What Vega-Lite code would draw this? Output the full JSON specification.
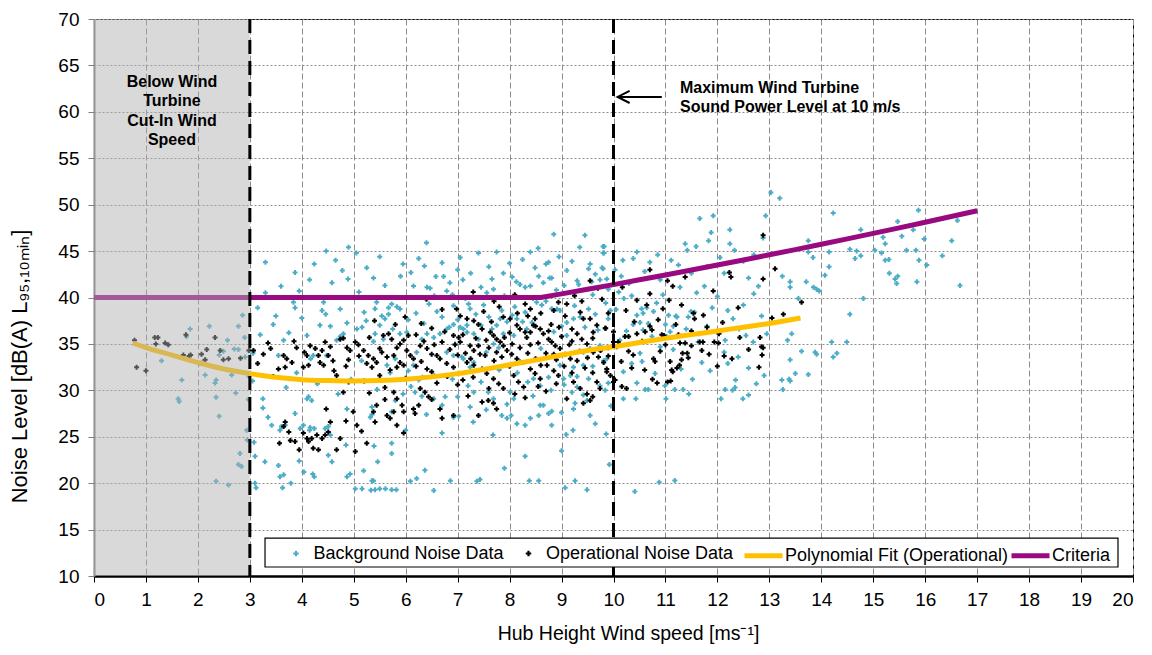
{
"$schema": "https://vega.github.io/schema/vega-lite/v6.json",
"width": 1039, "height": 557,
"autosize": {"type": "none"},
"padding": {"left": 94, "top": 19, "right": 19, "bottom": 79},
"background": "white",
"config": {
 "view": {"stroke": "black", "strokeWidth": 1},
 "font": "Liberation Sans",
 "axis": {"labelFont": "Liberation Sans", "titleFont": "Liberation Sans", "labelFontSize": 19, "labelColor": "black", "titleColor": "black", "titleFontWeight": "normal", "gridColor": "#8c8c8c", "gridWidth": 1, "tickSize": 6},
 "legend": {"labelFont": "Liberation Sans", "labelFontSize": 18, "labelColor": "black", "labelLimit": 0, "padding": 0, "rowPadding": 0}
},
"datasets": {
 "bg": [
 {"x":2.86,"y":38.1},{"x":2.22,"y":36.9},{"x":2.78,"y":36.9},{"x":1.78,"y":35.8},{"x":2.57,"y":35.4},{"x":2.70,"y":34.45},{"x":2.78,"y":34.4},{"x":2.49,"y":34.2},{"x":2.91,"y":33.6},{"x":2.41,"y":33.8},{"x":2.04,"y":32.9},{"x":2.10,"y":33.1},{"x":2.14,"y":31.65},{"x":2.65,"y":31.65},{"x":1.69,"y":31.1},{"x":2.35,"y":31.1},{"x":2.33,"y":30.8},{"x":2.73,"y":29.7},{"x":1.62,"y":29.1},{"x":1.64,"y":28.8},{"x":2.35,"y":29.25},{"x":2.41,"y":27.2},{"x":2.94,"y":25.7},{"x":2.95,"y":24.65},{"x":2.81,"y":23.2},{"x":2.78,"y":22.0},{"x":2.84,"y":21.8},{"x":2.35,"y":20.2},{"x":2.59,"y":19.8},{"x":1.3,"y":33.2},{"x":1.85,"y":36.6},{"x":2.97,"y":29.0},{"x":2.98,"y":31.5},{"x":2.9,"y":35.7},
 {"x":8.85,"y":46.8},{"x":4.47,"y":45.0},{"x":5.05,"y":44.8},{"x":4.24,"y":43.6},{"x":3.87,"y":42.7},{"x":4.78,"y":42.9},{"x":4.89,"y":42.0},{"x":4.58,"y":41.6},{"x":5.38,"y":42.1},{"x":6.36,"y":43.4},{"x":6.70,"y":43.75},{"x":6.58,"y":42.25},{"x":6.73,"y":42.25},{"x":7.10,"y":41.9},{"x":7.66,"y":42.0},{"x":7.88,"y":42.6},{"x":8.49,"y":43.2},{"x":8.70,"y":43.6},{"x":8.75,"y":43.8},{"x":8.56,"y":42.3},{"x":8.77,"y":42.1},{"x":8.81,"y":42.1},{"x":9.55,"y":43.6},{"x":9.52,"y":43.1},{"x":9.80,"y":45.5},{"x":9.82,"y":44.8},{"x":9.30,"y":41.8},{"x":9.33,"y":41.4},{"x":9.58,"y":41.7},{"x":9.78,"y":43.2},{"x":8.13,"y":41.7},{"x":8.20,"y":41.4},{"x":8.30,"y":41.1},{"x":8.40,"y":41.25},{"x":7.69,"y":40.9},{"x":7.56,"y":40.5},{"x":6.15,"y":41.25},{"x":6.41,"y":41.1},{"x":6.47,"y":41.0},{"x":6.79,"y":40.7},{"x":7.21,"y":39.3},{"x":7.24,"y":38.8},{"x":6.92,"y":39.1},{"x":5.44,"y":39.5},{"x":5.41,"y":38.8},{"x":5.73,"y":39.3},{"x":5.67,"y":38.9},{"x":5.83,"y":39.0},{"x":5.89,"y":38.75},{"x":5.67,"y":38.2},{"x":5.60,"y":37.7},{"x":5.54,"y":38.0},{"x":5.16,"y":36.8},{"x":5.06,"y":36.6},{"x":5.24,"y":37.5},{"x":4.87,"y":37.25},{"x":4.35,"y":37.0},{"x":4.10,"y":35.9},{"x":3.87,"y":38.9},{"x":3.84,"y":39.5},{"x":4.42,"y":39.5},{"x":4.46,"y":38.2},{"x":4.39,"y":38.6},{"x":4.74,"y":38.75},{"x":4.48,"y":33.75},{"x":3.65,"y":35.4},{"x":3.55,"y":33.75},{"x":3.25,"y":29.1},{"x":3.25,"y":28.1},{"x":3.87,"y":27.5},{"x":3.61,"y":26.1},{"x":3.68,"y":26.25},{"x":3.58,"y":25.7},{"x":3.42,"y":26.25},{"x":4.10,"y":29.1},{"x":4.16,"y":26.0},{"x":4.15,"y":25.7},{"x":4.24,"y":25.9},{"x":4.55,"y":25.2},{"x":4.51,"y":23.0},{"x":4.58,"y":22.3},{"x":3.29,"y":22.3},{"x":3.55,"y":21.9},{"x":3.58,"y":20.7},{"x":3.65,"y":20.9},{"x":3.79,"y":20.0},{"x":3.63,"y":19.5},{"x":3.1,"y":20.0},{"x":3.12,"y":19.5},{"x":4.04,"y":21.2},{"x":4.21,"y":21.0},{"x":4.24,"y":20.7},{"x":4.87,"y":20.7},{"x":4.93,"y":21.0},{"x":5.03,"y":19.4},{"x":5.16,"y":19.4},{"x":5.33,"y":19.25},{"x":5.41,"y":19.3},{"x":5.5,"y":19.4},{"x":5.61,"y":19.4},{"x":5.73,"y":19.3},{"x":5.82,"y":19.3},{"x":5.19,"y":21.35},{"x":5.35,"y":20.25},{"x":5.38,"y":20.25},{"x":5.46,"y":22.3},{"x":5.73,"y":23.2},{"x":5.73,"y":24.3},{"x":5.39,"y":24.0},{"x":6.09,"y":20.2},{"x":6.21,"y":20.5},{"x":6.37,"y":21.4},{"x":6.54,"y":19.2},{"x":6.86,"y":20.25},{"x":7.37,"y":20.2},{"x":7.43,"y":20.4},{"x":7.68,"y":25.2},{"x":8.38,"y":20.25},{"x":8.56,"y":20.25},{"x":9.07,"y":19.5},{"x":9.26,"y":20.25},{"x":9.49,"y":19.3},{"x":9.86,"y":25.3},{"x":9.09,"y":25.25},{"x":9.22,"y":25.7},{"x":9.23,"y":28.0},{"x":9.42,"y":29.5},{"x":9.55,"y":27.3},{"x":9.26,"y":28.6},{"x":9.49,"y":28.9},{"x":8.30,"y":26.25},{"x":8.40,"y":27.0},{"x":8.14,"y":26.4},{"x":8.03,"y":27.3},{"x":7.85,"y":27.3},{"x":7.95,"y":27.0},{"x":8.56,"y":27.3},{"x":8.75,"y":27.5},{"x":8.81,"y":27.75},{"x":8.81,"y":26.25},{"x":7.55,"y":27.9},{"x":7.24,"y":28.2},{"x":6.92,"y":27.1},{"x":7.02,"y":27.2},{"x":6.18,"y":29.8},{"x":6.31,"y":29.35},{"x":6.54,"y":29.1},{"x":5.32,"y":27.1},{"x":5.35,"y":27.4},{"x":4.87,"y":28.0},{"x":5.73,"y":27.7},{"x":5.80,"y":28.9},{"x":6.25,"y":31.1},{"x":6.32,"y":31.4},{"x":6.76,"y":29.3},{"x":6.70,"y":28.4},{"x":7.24,"y":32.5},{"x":7.31,"y":33.0},{"x":7.11,"y":33.4},{"x":7.08,"y":33.6},{"x":7.59,"y":29.8},{"x":7.69,"y":29.1},{"x":7.31,"y":29.8},{"x":8.01,"y":29.8},{"x":8.08,"y":29.1},{"x":8.59,"y":28.4},{"x":8.65,"y":28.4},{"x":9.2,"y":29.8},{"x":9.3,"y":30.35},{"x":9.74,"y":30.5},{"x":9.84,"y":30.0},{"x":9.52,"y":31.25},{"x":9.04,"y":31.25},{"x":9.17,"y":31.6},{"x":8.46,"y":31.25},{"x":8.59,"y":30.5},{"x":8.97,"y":32.7},{"x":9.23,"y":32.5},{"x":9.42,"y":32.7},{"x":9.81,"y":33.2},{"x":9.87,"y":33.4},{"x":9.42,"y":34.1},{"x":9.55,"y":34.5},{"x":9.74,"y":34.8},{"x":9.1,"y":35.9},{"x":9.23,"y":37.7},{"x":9.36,"y":37.9},{"x":9.1,"y":37.3},{"x":8.91,"y":38.75},{"x":8.97,"y":38.6},{"x":8.81,"y":38.8},{"x":9.52,"y":38.75},{"x":9.9,"y":37.7},{"x":9.94,"y":38.6},{"x":8.52,"y":39.5},{"x":8.62,"y":39.2},{"x":8.30,"y":38.4},{"x":8.43,"y":37.3},{"x":8.33,"y":36.6},{"x":8.08,"y":35.9},{"x":7.88,"y":36.1},{"x":8.14,"y":37.7},{"x":7.82,"y":37.7},{"x":7.95,"y":37.4},{"x":7.75,"y":37.0},{"x":7.66,"y":36.6},{"x":7.45,"y":37.0},{"x":7.69,"y":35.0},{"x":7.79,"y":34.6},{"x":7.40,"y":35.5},{"x":7.31,"y":36.1},{"x":7.18,"y":36.25},{"x":7.11,"y":36.6},{"x":7.05,"y":36.8},{"x":7.18,"y":37.0},{"x":6.92,"y":37.1},{"x":6.84,"y":36.8},{"x":6.66,"y":36.1},{"x":6.79,"y":36.6},{"x":6.54,"y":35.7},{"x":6.41,"y":36.1},{"x":6.31,"y":35.5},{"x":6.21,"y":34.1},{"x":6.79,"y":34.1},{"x":6.92,"y":33.75},{"x":5.89,"y":36.1},{"x":6.02,"y":36.25},{"x":5.57,"y":35.5},{"x":5.38,"y":35.25},{"x":5.41,"y":36.1},{"x":4.74,"y":35.8},{"x":4.80,"y":36.1},{"x":4.67,"y":35.4},{"x":4.22,"y":33.75},{"x":4.17,"y":33.4},{"x":5.80,"y":33.4},{"x":5.64,"y":32.7},{"x":6.05,"y":32.1},{"x":6.15,"y":32.7},{"x":4.13,"y":29.3},{"x":4.19,"y":28.9},{"x":4.45,"y":25.9},{"x":4.51,"y":26.1},{"x":3.97,"y":25.9},{"x":4.03,"y":26.25},{"x":5.35,"y":28.2},
 {"x":4.9,"y":45.4},{"x":6.4,"y":45.9},{"x":9.45,"y":46.7},{"x":8.4,"y":44.9},{"x":7.4,"y":44.8},{"x":5.5,"y":44.4},{"x":3.3,"y":40.5},{"x":3.5,"y":38.0},{"x":3.2,"y":36.0},{"x":6.0,"y":40.0},{"x":6.9,"y":40.3},{"x":7.9,"y":40.2},{"x":8.9,"y":40.8},{"x":9.1,"y":42.9},{"x":9.6,"y":40.3},{"x":3.06,"y":34.0},{"x":3.05,"y":31.0},{"x":3.08,"y":24.4},{"x":3.1,"y":22.9},{"x":6.6,"y":38.5},{"x":7.5,"y":39.2},{"x":8.1,"y":39.0},{"x":9.0,"y":36.9},{"x":9.7,"y":36.5},{"x":7.0,"y":43.0},{"x":5.9,"y":42.3},{"x":6.2,"y":38.3},{"x":6.95,"y":35.0},{"x":7.55,"y":34.1},{"x":8.6,"y":34.5},{"x":8.2,"y":33.1},{"x":8.8,"y":30.0},{"x":9.95,"y":28.3},{"x":9.65,"y":26.4},{"x":9.0,"y":23.5},{"x":9.92,"y":22.0},{"x":7.9,"y":21.6},{"x":8.3,"y":22.9},{"x":6.0,"y":25.7},{"x":6.7,"y":25.4},{"x":4.95,"y":31.2},{"x":3.7,"y":30.3},
 {"x":5.1,"y":40.6},{"x":5.25,"y":43.2},{"x":5.6,"y":41.3},{"x":5.95,"y":43.6},{"x":6.1,"y":42.7},{"x":6.25,"y":44.2},{"x":6.55,"y":40.2},{"x":6.85,"y":41.6},{"x":7.05,"y":44.3},{"x":7.25,"y":42.6},{"x":7.45,"y":41.1},{"x":7.6,"y":43.3},{"x":7.75,"y":44.9},{"x":8.0,"y":43.7},{"x":8.05,"y":42.2},{"x":8.25,"y":44.1},{"x":8.55,"y":45.3},{"x":8.65,"y":41.6},{"x":8.95,"y":44.4},{"x":9.05,"y":41.3},{"x":9.2,"y":43.9},{"x":9.35,"y":45.4},{"x":9.65,"y":42.5},{"x":9.9,"y":40.9},
 {"x":5.2,"y":38.4},{"x":5.5,"y":37.0},{"x":5.75,"y":36.6},{"x":6.05,"y":37.6},{"x":6.35,"y":37.2},{"x":6.45,"y":39.3},{"x":6.7,"y":37.9},{"x":7.0,"y":37.6},{"x":7.15,"y":39.9},{"x":7.35,"y":38.2},{"x":7.6,"y":37.9},{"x":7.85,"y":38.6},{"x":8.05,"y":38.1},{"x":8.25,"y":37.4},{"x":8.45,"y":39.9},{"x":8.7,"y":39.6},{"x":8.85,"y":36.3},{"x":9.25,"y":39.1},{"x":9.45,"y":36.8},{"x":9.65,"y":38.2},{"x":9.85,"y":39.4},
 {"x":5.15,"y":33.2},{"x":5.45,"y":30.1},{"x":5.7,"y":31.9},{"x":6.1,"y":30.4},{"x":6.55,"y":31.6},{"x":6.9,"y":31.2},{"x":7.2,"y":30.5},{"x":7.45,"y":30.9},{"x":7.8,"y":32.2},{"x":8.15,"y":31.9},{"x":8.35,"y":30.9},{"x":8.75,"y":31.4},{"x":9.05,"y":30.6},{"x":9.3,"y":31.5},{"x":9.6,"y":32.6},{"x":9.9,"y":30.8},{"x":7.0,"y":29.3},{"x":7.95,"y":28.5},{"x":8.45,"y":29.4},{"x":9.0,"y":27.6},{"x":6.4,"y":27.4},{"x":5.95,"y":29.6},{"x":7.3,"y":26.6},
 {"x":3.3,"y":43.8},{"x":3.6,"y":41.2},{"x":3.95,"y":40.7},{"x":4.15,"y":41.9},{"x":4.65,"y":44.0},{"x":3.45,"y":37.1},{"x":4.0,"y":37.8},{"x":4.55,"y":36.9},{"x":3.15,"y":38.9},{"x":3.75,"y":36.2},{"x":4.3,"y":30.7},{"x":3.9,"y":31.9},{"x":4.7,"y":29.6},{"x":3.35,"y":27.1},{"x":4.85,"y":24.1},{"x":3.95,"y":22.4},
 {"x":9.82,"y":45.5},{"x":9.8,"y":44.8},{"x":10.45,"y":44.9},{"x":10.38,"y":44.2},{"x":10.18,"y":44.0},{"x":10.7,"y":43.8},{"x":11.11,"y":44.0},{"x":9.8,"y":43.1},{"x":10.03,"y":43.0},{"x":9.74,"y":41.9},{"x":9.87,"y":42.0},{"x":12.13,"y":42.6},{"x":12.79,"y":41.2},{"x":11.75,"y":41.2},{"x":11.28,"y":41.1},{"x":10.2,"y":39.9},{"x":10.54,"y":38.8},{"x":10.64,"y":38.9},{"x":10.57,"y":38.3},{"x":10.45,"y":38.1},{"x":10.51,"y":37.3},{"x":10.38,"y":37.1},{"x":10.77,"y":38.5},{"x":10.83,"y":39.4},{"x":11.06,"y":38.1},{"x":11.2,"y":38.0},{"x":11.22,"y":37.9},{"x":11.44,"y":37.9},{"x":11.49,"y":38.5},{"x":11.15,"y":36.9},{"x":11.09,"y":36.3},{"x":11.56,"y":38.4},{"x":10.57,"y":36.5},{"x":10.67,"y":37.2},{"x":10.74,"y":35.8},{"x":12.42,"y":36.6},{"x":12.95,"y":36.1},{"x":12.15,"y":35.4},{"x":11.63,"y":35.2},{"x":11.02,"y":35.8},{"x":10.9,"y":34.7},{"x":10.51,"y":34.0},{"x":10.35,"y":32.9},{"x":10.45,"y":30.8},{"x":10.19,"y":32.0},{"x":10.61,"y":30.1},{"x":10.67,"y":30.1},{"x":10.99,"y":30.5},{"x":11.18,"y":30.1},{"x":11.34,"y":30.1},{"x":11.52,"y":31.2},{"x":11.86,"y":32.1},{"x":12.13,"y":34.1},{"x":12.2,"y":32.9},{"x":12.07,"y":29.1},{"x":12.15,"y":30.1},{"x":12.29,"y":30.0},{"x":12.34,"y":30.3},{"x":12.49,"y":29.1},{"x":12.6,"y":29.5},{"x":12.69,"y":35.2},{"x":11.01,"y":29.1},{"x":10.19,"y":29.1},{"x":10.43,"y":29.1},{"x":10.41,"y":19.1},{"x":10.88,"y":20.1},{"x":11.18,"y":20.3},
 {"x":12.93,"y":48.8},{"x":12.88,"y":46.4},{"x":11.66,"y":48.5},{"x":11.92,"y":48.8},{"x":11.88,"y":47.0},{"x":11.83,"y":46.1},{"x":12.24,"y":47.3},{"x":12.24,"y":45.8},{"x":12.33,"y":45.1},{"x":11.38,"y":45.8},{"x":11.42,"y":45.1},{"x":11.59,"y":45.5},
 {"x":13.03,"y":51.3},{"x":13.2,"y":50.7},{"x":14.23,"y":49.1},{"x":15.87,"y":49.4},{"x":15.47,"y":48.2},{"x":16.62,"y":48.3},{"x":14.76,"y":47.3},{"x":15.77,"y":47.3},{"x":13.75,"y":46.1},{"x":15.19,"y":46.5},{"x":15.55,"y":46.6},{"x":15.98,"y":46.3},{"x":16.51,"y":46.1},{"x":15.23,"y":45.8},{"x":14.55,"y":45.2},{"x":14.68,"y":45.0},{"x":14.65,"y":44.2},{"x":14.76,"y":44.5},{"x":14.15,"y":44.9},{"x":15.03,"y":45.1},{"x":15.16,"y":44.8},{"x":15.64,"y":45.1},{"x":15.82,"y":45.1},{"x":16.33,"y":44.5},{"x":13.75,"y":44.9},{"x":13.84,"y":44.3},{"x":14.15,"y":43.3},{"x":15.23,"y":44.0},{"x":15.30,"y":44.1},{"x":15.88,"y":44.0},{"x":16.03,"y":43.5},{"x":15.31,"y":42.6},{"x":15.47,"y":42.3},{"x":15.42,"y":42.0},{"x":15.45,"y":41.5},{"x":15.84,"y":41.7},{"x":16.67,"y":41.3},{"x":14.07,"y":42.4},{"x":13.25,"y":42.3},{"x":13.40,"y":41.7},{"x":13.40,"y":41.1},{"x":13.71,"y":41.7},{"x":13.85,"y":41.1},{"x":13.91,"y":40.9},{"x":13.96,"y":40.7},{"x":13.56,"y":39.9},{"x":14.81,"y":39.9},{"x":14.55,"y":38.2},{"x":14.49,"y":35.2},{"x":14.2,"y":35.2},{"x":14.3,"y":34.0},{"x":14.23,"y":33.6},{"x":13.91,"y":33.9},{"x":13.88,"y":34.1},{"x":13.62,"y":34.2},{"x":13.43,"y":36.1},{"x":13.35,"y":35.4},{"x":13.5,"y":31.8},{"x":13.4,"y":33.3},{"x":13.38,"y":31.2},{"x":13.4,"y":31.0},{"x":13.24,"y":31.1},{"x":13.26,"y":30.1},{"x":13.75,"y":31.7},
 {"x":10.1,"y":40.6},{"x":10.3,"y":41.5},{"x":10.9,"y":41.9},{"x":11.5,"y":42.6},{"x":11.8,"y":43.3},{"x":12.5,"y":43.9},{"x":12.7,"y":44.6},{"x":12.0,"y":40.1},{"x":12.5,"y":39.2},{"x":11.9,"y":38.9},{"x":10.95,"y":40.3},{"x":12.85,"y":38.0},{"x":12.4,"y":33.6},{"x":11.7,"y":33.0},{"x":11.3,"y":32.3},{"x":10.8,"y":31.8},{"x":12.9,"y":31.6},{"x":12.6,"y":32.4},{"x":10.05,"y":38.7},{"x":10.25,"y":36.4},{"x":10.12,"y":35.4},{"x":11.4,"y":36.6},{"x":11.8,"y":36.9},{"x":12.3,"y":37.7},{"x":12.7,"y":40.4},
 {"x":10.15,"y":42.3},{"x":10.6,"y":42.8},{"x":11.25,"y":43.5},{"x":11.6,"y":40.5},{"x":12.05,"y":44.3},{"x":12.6,"y":42.1},{"x":10.35,"y":40.2},{"x":10.85,"y":44.6},{"x":11.0,"y":37.1},{"x":11.65,"y":36.1},{"x":12.2,"y":38.6},{"x":12.55,"y":35.9},{"x":10.55,"y":33.1},{"x":11.15,"y":34.4},{"x":12.35,"y":31.1},{"x":11.45,"y":29.6},{"x":12.75,"y":30.7}
 ],
 "op": [
 {"x":0.78,"y":35.4},{"x":0.82,"y":32.5},{"x":1.0,"y":32.1},{"x":1.17,"y":35.7},{"x":1.23,"y":35.7},{"x":1.19,"y":35.0},{"x":1.37,"y":35.1},{"x":1.43,"y":34.9},{"x":1.77,"y":36.0},{"x":1.72,"y":33.8},{"x":1.83,"y":33.7},{"x":1.86,"y":33.8},{"x":2.07,"y":33.9},{"x":2.14,"y":33.3},{"x":2.33,"y":35.7},{"x":2.17,"y":34.4},{"x":2.43,"y":34.3},{"x":2.49,"y":33.3},{"x":2.59,"y":33.4},{"x":2.82,"y":33.45},{"x":2.98,"y":34.3},
 {"x":3.07,"y":34.3},{"x":3.26,"y":33.9},{"x":3.65,"y":33.75},{"x":3.71,"y":33.4},{"x":3.81,"y":33.0},{"x":3.55,"y":32.3},{"x":3.68,"y":32.5},{"x":4.16,"y":34.8},{"x":4.26,"y":34.5},{"x":4.39,"y":34.3},{"x":4.32,"y":33.75},{"x":4.03,"y":32.5},{"x":4.13,"y":32.7},{"x":4.35,"y":33.0},{"x":4.42,"y":32.7},{"x":4.51,"y":33.75},{"x":4.55,"y":34.7},{"x":4.74,"y":35.5},{"x":4.80,"y":35.6},{"x":4.87,"y":34.6},{"x":4.93,"y":34.3},{"x":4.62,"y":32.1},{"x":4.67,"y":31.6},{"x":4.80,"y":29.8},{"x":5.03,"y":35.2},{"x":5.09,"y":34.9},{"x":5.19,"y":34.3},{"x":5.28,"y":33.75},{"x":5.38,"y":33.4},{"x":5.25,"y":32.9},{"x":5.35,"y":32.5},{"x":5.44,"y":33.0},{"x":5.57,"y":35.9},{"x":5.67,"y":36.1},{"x":5.73,"y":35.5},{"x":5.54,"y":34.1},{"x":5.64,"y":33.6},{"x":5.77,"y":33.75},{"x":5.83,"y":34.6},{"x":5.89,"y":35.0},{"x":5.96,"y":35.4},{"x":6.02,"y":34.3},{"x":6.09,"y":33.75},{"x":6.15,"y":33.4},{"x":5.89,"y":33.0},{"x":5.96,"y":32.7},{"x":5.83,"y":32.5},{"x":5.99,"y":37.9},{"x":6.28,"y":34.8},{"x":6.41,"y":34.5},{"x":6.50,"y":33.9},{"x":6.60,"y":33.75},{"x":6.66,"y":33.4},{"x":6.79,"y":32.9},{"x":6.92,"y":32.5},{"x":6.41,"y":32.3},{"x":6.50,"y":32.0},{"x":6.92,"y":35.9},{"x":7.02,"y":35.7},{"x":7.05,"y":35.2},{"x":7.24,"y":34.8},{"x":7.31,"y":34.3},{"x":7.43,"y":33.9},{"x":7.53,"y":33.75},{"x":7.18,"y":37.7},{"x":7.31,"y":37.5},{"x":7.40,"y":37.1},{"x":7.47,"y":36.6},{"x":7.18,"y":33.0},{"x":7.31,"y":32.7},{"x":7.47,"y":32.3},{"x":7.56,"y":31.8},{"x":6.98,"y":38.75},{"x":7.05,"y":38.0},{"x":7.63,"y":36.25},{"x":7.69,"y":35.9},{"x":7.75,"y":35.5},{"x":7.82,"y":35.2},{"x":7.88,"y":34.8},{"x":7.95,"y":34.3},{"x":8.04,"y":33.9},{"x":8.14,"y":33.4},{"x":7.88,"y":37.9},{"x":8.01,"y":37.7},{"x":8.14,"y":37.0},{"x":8.20,"y":36.6},{"x":8.30,"y":36.25},{"x":8.33,"y":35.7},{"x":8.40,"y":36.25},{"x":8.46,"y":37.0},{"x":8.49,"y":37.7},{"x":8.59,"y":36.6},{"x":8.65,"y":36.1},{"x":8.30,"y":39.3},{"x":8.40,"y":38.75},{"x":8.75,"y":35.5},{"x":8.81,"y":35.2},{"x":8.88,"y":34.8},{"x":8.97,"y":34.5},{"x":9.07,"y":33.9},{"x":9.17,"y":33.4},{"x":8.72,"y":32.7},{"x":8.85,"y":32.1},{"x":8.94,"y":31.6},{"x":8.40,"y":32.3},{"x":8.49,"y":31.8},{"x":8.59,"y":31.25},{"x":8.08,"y":31.6},{"x":8.17,"y":30.9},{"x":8.27,"y":30.35},{"x":7.69,"y":31.25},{"x":7.79,"y":30.7},{"x":7.88,"y":30.2},{"x":7.59,"y":28.9},{"x":7.69,"y":28.6},{"x":7.75,"y":28.0},{"x":7.47,"y":28.75},{"x":7.40,"y":27.3},{"x":6.66,"y":28.0},{"x":6.70,"y":27.0},{"x":6.92,"y":27.3},{"x":6.28,"y":30.2},{"x":6.37,"y":29.8},{"x":6.44,"y":29.3},{"x":6.15,"y":28.0},{"x":6.18,"y":27.5},{"x":6.25,"y":28.4},{"x":5.77,"y":29.8},{"x":5.83,"y":29.1},{"x":5.93,"y":28.4},{"x":5.96,"y":27.7},{"x":5.64,"y":27.3},{"x":5.70,"y":27.0},{"x":5.77,"y":27.7},{"x":5.83,"y":26.25},{"x":5.96,"y":25.4},{"x":5.44,"y":28.4},{"x":5.38,"y":27.7},{"x":5.41,"y":26.6},{"x":4.99,"y":27.7},{"x":5.06,"y":26.25},{"x":5.03,"y":23.4},{"x":5.25,"y":24.3},{"x":4.74,"y":24.8},{"x":4.67,"y":23.6},{"x":4.55,"y":26.6},{"x":4.51,"y":25.5},{"x":4.45,"y":25.2},{"x":4.39,"y":24.8},{"x":4.29,"y":25.2},{"x":4.19,"y":24.8},{"x":4.13,"y":24.5},{"x":4.22,"y":23.75},{"x":4.32,"y":23.6},{"x":4.03,"y":25.4},{"x":4.10,"y":24.8},{"x":3.87,"y":24.5},{"x":3.78,"y":24.6},{"x":3.57,"y":24.3},{"x":4.47,"y":28.0},{"x":3.68,"y":26.6},{"x":3.65,"y":26.1},{"x":4.10,"y":33.75},
 {"x":9.55,"y":41.8},{"x":9.39,"y":39.6},{"x":9.78,"y":39.8},{"x":9.55,"y":37.7},{"x":9.68,"y":37.0},{"x":9.61,"y":36.25},{"x":9.20,"y":36.6},{"x":9.30,"y":36.1},{"x":9.39,"y":35.5},{"x":9.49,"y":35.0},{"x":9.61,"y":34.1},{"x":9.71,"y":33.6},{"x":9.81,"y":33.0},{"x":9.87,"y":32.3},{"x":9.94,"y":31.6},{"x":10.0,"y":30.9},{"x":9.23,"y":30.9},{"x":9.36,"y":30.2},{"x":9.49,"y":29.6},{"x":9.10,"y":29.1},{"x":9.42,"y":28.6},{"x":9.55,"y":28.9},{"x":9.68,"y":30.9},{"x":9.74,"y":30.2},{"x":8.94,"y":39.5},{"x":9.07,"y":38.0},{"x":9.10,"y":39.3},{"x":9.36,"y":38.4},{"x":9.42,"y":37.7},
 {"x":6.2,"y":36.0},{"x":6.5,"y":36.7},{"x":6.7,"y":35.2},{"x":6.85,"y":34.4},{"x":7.0,"y":33.8},{"x":7.15,"y":34.0},{"x":7.35,"y":35.6},{"x":7.6,"y":34.6},{"x":7.7,"y":33.2},{"x":7.85,"y":33.6},{"x":8.0,"y":32.6},{"x":8.2,"y":34.6},{"x":8.35,"y":34.0},{"x":8.5,"y":33.4},{"x":8.55,"y":35.1},{"x":8.7,"y":34.0},{"x":8.9,"y":33.3},{"x":9.0,"y":35.8},{"x":9.15,"y":34.9},{"x":9.3,"y":33.2},{"x":9.45,"y":32.4},{"x":9.6,"y":31.9},{"x":8.0,"y":36.2},{"x":7.5,"y":38.5},{"x":7.8,"y":39.0},{"x":8.6,"y":38.3},{"x":8.8,"y":37.1},{"x":7.3,"y":31.4},{"x":7.0,"y":30.6},{"x":6.6,"y":30.8},{"x":6.0,"y":31.3},{"x":5.5,"y":31.6},{"x":5.2,"y":31.0},{"x":8.3,"y":29.2},{"x":8.7,"y":29.9},{"x":9.9,"y":34.6},{"x":9.85,"y":36.7},{"x":6.3,"y":33.1},{"x":5.6,"y":30.3},{"x":4.9,"y":33.3},{"x":3.9,"y":34.6},{"x":3.35,"y":35.1},{"x":3.45,"y":31.5},{"x":6.4,"y":39.8},{"x":8.1,"y":40.3},{"x":7.3,"y":40.6},{"x":9.7,"y":41.0},
 {"x":3.15,"y":32.9},{"x":3.4,"y":34.5},{"x":3.85,"y":35.3},{"x":4.05,"y":34.1},{"x":4.45,"y":35.2},{"x":4.6,"y":33.2},{"x":4.85,"y":32.6},{"x":5.1,"y":33.7},{"x":5.3,"y":35.7},{"x":5.5,"y":34.5},{"x":5.7,"y":32.2},{"x":6.05,"y":35.9},{"x":6.2,"y":32.6},{"x":6.35,"y":35.3},{"x":6.55,"y":34.9},{"x":6.75,"y":36.3},{"x":6.95,"y":34.9},{"x":7.1,"y":36.0},{"x":7.25,"y":33.4},{"x":7.4,"y":34.8},{"x":7.55,"y":35.4},{"x":7.65,"y":37.4},{"x":7.75,"y":34.1},{"x":7.9,"y":35.7},{"x":8.05,"y":35.0},{"x":8.15,"y":38.3},{"x":8.25,"y":33.0},{"x":8.4,"y":34.9},{"x":8.5,"y":36.9},{"x":8.6,"y":32.7},{"x":8.75,"y":36.4},{"x":8.85,"y":33.9},{"x":8.95,"y":36.8},{"x":9.05,"y":32.6},{"x":9.2,"y":35.3},{"x":9.35,"y":34.2},{"x":9.5,"y":33.5},{"x":9.6,"y":35.6},{"x":9.75,"y":34.3},{"x":9.9,"y":33.7},
 {"x":6.8,"y":31.5},{"x":7.1,"y":31.1},{"x":7.6,"y":30.2},{"x":8.1,"y":29.6},{"x":8.55,"y":30.4},{"x":8.9,"y":30.7},{"x":9.2,"y":31.9},{"x":9.6,"y":29.3},{"x":7.2,"y":29.4},{"x":6.5,"y":29.0},{"x":5.6,"y":29.0},{"x":5.3,"y":29.7},{"x":4.9,"y":30.9},{"x":5.15,"y":25.6},{"x":4.85,"y":26.7},{"x":3.95,"y":23.6},{"x":3.75,"y":25.5},
 {"x":7.7,"y":39.6},{"x":8.35,"y":38.0},{"x":8.85,"y":38.6},{"x":9.25,"y":40.2},{"x":9.9,"y":38.3},{"x":6.7,"y":38.7},{"x":6.3,"y":37.2},{"x":5.8,"y":37.1},{"x":5.4,"y":37.5},
 {"x":12.88,"y":46.7},{"x":12.23,"y":42.7},{"x":12.26,"y":42.2},{"x":13.11,"y":43.1},{"x":12.88,"y":42.0},{"x":11.92,"y":40.7},{"x":11.38,"y":42.2},{"x":11.04,"y":41.8},{"x":10.7,"y":43.0},{"x":11.14,"y":41.2},{"x":10.17,"y":41.1},{"x":10.7,"y":40.4},{"x":10.45,"y":39.7},{"x":11.07,"y":39.7},{"x":10.24,"y":38.6},{"x":10.64,"y":39.2},{"x":11.31,"y":39.2},{"x":11.54,"y":38.3},{"x":11.56,"y":37.7},{"x":11.73,"y":38.1},{"x":10.86,"y":37.6},{"x":10.7,"y":36.9},{"x":10.74,"y":36.5},{"x":10.61,"y":36.3},{"x":10.45,"y":36.1},{"x":10.29,"y":35.8},{"x":10.22,"y":35.8},{"x":10.93,"y":36.0},{"x":10.97,"y":35.9},{"x":11.25,"y":36.0},{"x":9.84,"y":36.7},{"x":10.0,"y":36.3},{"x":10.0,"y":35.2},{"x":10.09,"y":35.2},{"x":10.06,"y":34.7},{"x":10.29,"y":34.2},{"x":10.38,"y":33.8},{"x":10.9,"y":34.2},{"x":11.09,"y":33.1},{"x":10.77,"y":33.4},{"x":10.8,"y":33.1},{"x":11.28,"y":35.1},{"x":11.38,"y":35.1},{"x":11.5,"y":34.8},{"x":11.33,"y":34.0},{"x":11.42,"y":34.0},{"x":11.44,"y":33.5},{"x":11.31,"y":33.3},{"x":11.27,"y":32.7},{"x":11.22,"y":32.4},{"x":11.12,"y":32.2},{"x":11.14,"y":32.0},{"x":11.1,"y":31.0},{"x":11.04,"y":30.9},{"x":10.75,"y":31.2},{"x":10.84,"y":30.8},{"x":11.66,"y":35.2},{"x":11.72,"y":35.2},{"x":11.7,"y":34.3},{"x":11.84,"y":33.9},{"x":11.94,"y":35.2},{"x":12.02,"y":35.1},{"x":12.03,"y":36.1},{"x":12.13,"y":33.7},{"x":12.28,"y":33.4},{"x":12.43,"y":35.7},{"x":12.82,"y":35.7},{"x":12.85,"y":34.7},{"x":12.88,"y":34.6},{"x":12.86,"y":33.8},{"x":12.8,"y":32.5},{"x":13.05,"y":37.8},{"x":13.27,"y":38.2},{"x":13.62,"y":39.5},{"x":9.87,"y":32.0},{"x":10.03,"y":31.1},{"x":10.16,"y":30.4},{"x":10.25,"y":30.2},
 {"x":10.4,"y":37.4},{"x":10.55,"y":35.3},{"x":10.15,"y":33.1},{"x":10.6,"y":32.2},{"x":11.0,"y":34.9},{"x":11.2,"y":37.1},{"x":11.5,"y":36.4},{"x":11.8,"y":36.8},{"x":12.1,"y":37.3},{"x":12.4,"y":38.9},{"x":12.6,"y":34.4},{"x":10.95,"y":38.8},{"x":12.0,"y":32.6},{"x":10.35,"y":32.4}
 ],
 "fit": [
 {"x":0.75,"y":35.1},{"x":1,"y":34.6},{"x":1.5,"y":33.8},{"x":2,"y":33.0},{"x":2.5,"y":32.3},{"x":3,"y":31.8},{"x":3.5,"y":31.4},{"x":4,"y":31.15},{"x":4.5,"y":31.05},{"x":5,"y":31.0},{"x":5.5,"y":31.05},{"x":6,"y":31.2},{"x":6.5,"y":31.45},{"x":7,"y":31.8},{"x":7.5,"y":32.25},{"x":8,"y":32.75},{"x":8.5,"y":33.25},{"x":9,"y":33.8},{"x":9.5,"y":34.3},{"x":10,"y":34.7},{"x":10.5,"y":35.15},{"x":11,"y":35.6},{"x":11.5,"y":36.0},{"x":12,"y":36.4},{"x":12.5,"y":36.8},{"x":13,"y":37.2},{"x":13.6,"y":37.8}
 ],
 "crit": [
 {"x":0,"y":40},{"x":8.6,"y":40},{"x":9,"y":40.39},{"x":9.5,"y":40.89},{"x":10,"y":41.39},{"x":10.5,"y":41.91},{"x":11,"y":42.43},{"x":11.5,"y":42.96},{"x":12,"y":43.5},{"x":12.5,"y":44.04},{"x":13,"y":44.6},{"x":13.5,"y":45.16},{"x":14,"y":45.74},{"x":14.5,"y":46.32},{"x":15,"y":46.91},{"x":15.5,"y":47.5},{"x":16,"y":48.11},{"x":16.5,"y":48.73},{"x":17,"y":49.35}
 ],
 "cut": [{"x":0,"x2":3,"y":10,"y2":70}],
 "box": [{"x":3.292,"x2":19.711,"y":10.97,"y2":14.09}],
 "vl": [{"x":3},{"x":10}],
 "arrow": [
 {"x":10.93,"y":61.6,"g":1,"o":1},{"x":10.08,"y":61.6,"g":1,"o":2},
 {"x":10.31,"y":62.25,"g":2,"o":1},{"x":10.08,"y":61.6,"g":2,"o":2},{"x":10.31,"y":60.95,"g":2,"o":3}
 ],
 "lab1": [
 {"x":1.5,"y":63.2,"t":"Below Wind"},{"x":1.5,"y":61.15,"t":"Turbine"},{"x":1.5,"y":59.05,"t":"Cut-In Wind"},{"x":1.5,"y":57.0,"t":"Speed"}
 ],
 "lab2": [
 {"x":11.28,"y":62.55,"t":"Maximum Wind Turbine"},{"x":11.28,"y":60.5,"t":"Sound Power Level at 10 m/s"}
 ]
},
"encoding": {},
"layer": [
 {"data": {"name": "bg"}, "mark": {"type": "point", "shape": "cross", "filled": true, "size": 25, "opacity": 1},
  "encoding": {
   "x": {"field": "x", "type": "quantitative", "scale": {"domain": [0, 20], "nice": false},
     "axis": {"title": "Hub Height Wind speed [ms⁻¹]", "titleFontSize": 19.5, "titleX": 534, "titleY": 57, "titleAlign": "center", "titleBaseline": "middle", "values": [0,1,2,3,4,5,6,7,8,9,10,11,12,13,14,15,16,17,18,19,20], "gridDash": [6, 3], "domainColor": "black", "domainWidth": 2.5, "tickColor": "black", "labelPadding": 8}},
   "y": {"field": "y", "type": "quantitative", "scale": {"domain": [10, 70], "nice": false},
     "axis": {"title": "Noise Level [dB(A) L₉₅,₁₀ₘᵢₙ]", "titleFontSize": 22, "titleX": -75, "titleY": 347, "titleAlign": "center", "titleBaseline": "middle", "titleAngle": -90, "values": [10,15,20,25,30,35,40,45,50,55,60,65,70], "gridDash": [2, 2], "domainColor": "#7f7f7f", "domainWidth": 2, "tickColor": "#7f7f7f", "labelPadding": 9}},
   "fill": {"datum": "Background Noise Data", "type": "nominal",
     "scale": {"domain": ["Background Noise Data", "Operational Noise Data"], "range": ["#4bacc6", "#000000"]},
     "legend": {"title": null, "orient": "none", "legendX": 193, "legendY": 525.5, "direction": "horizontal", "columns": 2,
       "symbolType": "cross", "symbolSize": 30, "symbolStrokeWidth": 0, "labelOffset": 8.5, "columnPadding": 15.5}}
  }},
 {"data": {"name": "op"}, "mark": {"type": "point", "shape": "cross", "filled": true, "size": 25, "opacity": 1},
  "encoding": {"x": {"field": "x", "type": "quantitative"}, "y": {"field": "y", "type": "quantitative"}, "fill": {"datum": "Operational Noise Data", "type": "nominal"}}},
 {"data": {"name": "fit"}, "mark": {"type": "line", "strokeWidth": 5, "interpolate": "monotone"},
  "encoding": {"x": {"field": "x", "type": "quantitative"}, "y": {"field": "y", "type": "quantitative"},
   "stroke": {"datum": "Polynomial Fit (Operational)", "type": "nominal",
     "scale": {"domain": ["Polynomial Fit (Operational)", "Criteria"], "range": ["#ffc000", "#990a80"]},
     "legend": {"title": null, "orient": "none", "legendX": 648, "legendY": 515, "direction": "horizontal", "columns": 2,
       "symbolType": "stroke", "symbolSize": 1444, "symbolStrokeWidth": 5, "labelOffset": 0, "columnPadding": -21}}}},
 {"data": {"name": "crit"}, "mark": {"type": "line", "strokeWidth": 5},
  "encoding": {"x": {"field": "x", "type": "quantitative"}, "y": {"field": "y", "type": "quantitative"}, "stroke": {"datum": "Criteria", "type": "nominal"}}},
 {"data": {"name": "cut"}, "mark": {"type": "rect", "fill": "#b0b0b0", "opacity": 0.48},
  "encoding": {"x": {"field": "x", "type": "quantitative"}, "x2": {"field": "x2"}, "y": {"field": "y", "type": "quantitative"}, "y2": {"field": "y2"}}},
 {"data": {"name": "vl"}, "mark": {"type": "rule", "color": "black", "strokeWidth": 3, "strokeDash": [14, 7]},
  "encoding": {"x": {"field": "x", "type": "quantitative"}}},
 {"data": {"name": "box"}, "mark": {"type": "rect", "fill": "white", "stroke": "black", "strokeWidth": 1.2},
  "encoding": {"x": {"field": "x", "type": "quantitative"}, "x2": {"field": "x2"}, "y": {"field": "y", "type": "quantitative"}, "y2": {"field": "y2"}}},
 {"data": {"name": "arrow"}, "mark": {"type": "line", "color": "black", "strokeWidth": 2},
  "encoding": {"x": {"field": "x", "type": "quantitative"}, "y": {"field": "y", "type": "quantitative"}, "detail": {"field": "g"}, "order": {"field": "o"}}},
 {"data": {"name": "lab1"}, "mark": {"type": "text", "font": "Liberation Sans", "fontSize": 16, "fontWeight": "bold", "align": "center", "baseline": "middle", "color": "black"},
  "encoding": {"x": {"field": "x", "type": "quantitative"}, "y": {"field": "y", "type": "quantitative"}, "text": {"field": "t"}}},
 {"data": {"name": "lab2"}, "mark": {"type": "text", "font": "Liberation Sans", "fontSize": 16, "fontWeight": "bold", "align": "left", "baseline": "middle", "color": "black"},
  "encoding": {"x": {"field": "x", "type": "quantitative"}, "y": {"field": "y", "type": "quantitative"}, "text": {"field": "t"}}}
]
}
